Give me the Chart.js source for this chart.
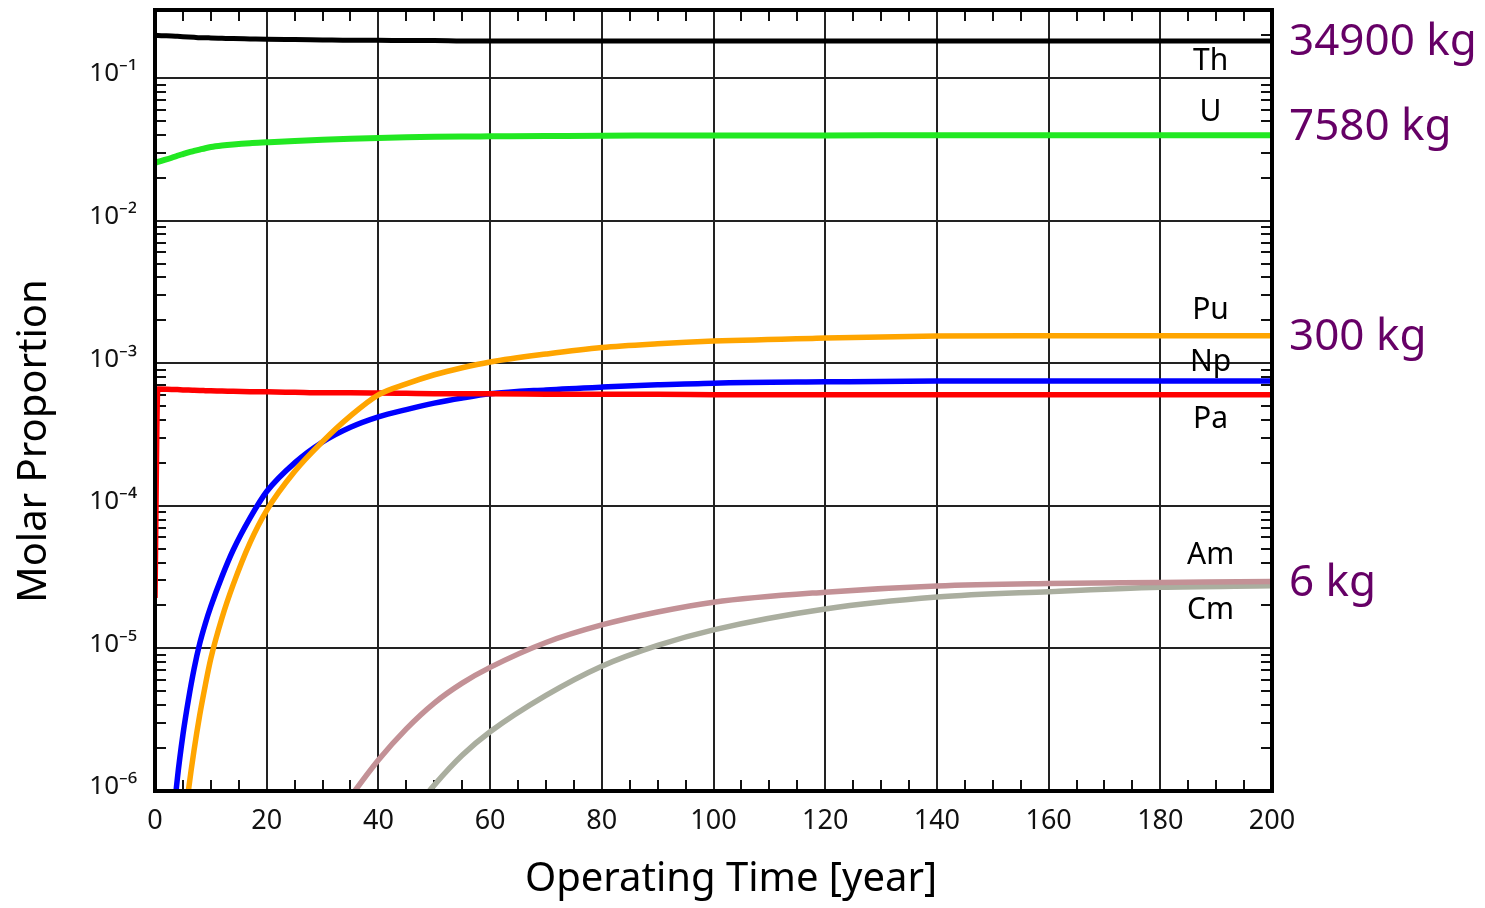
<!DOCTYPE html>
<html>
<head>
<meta charset="utf-8">
<script src="https://cdn.jsdelivr.net/npm/chart.js@4"></script>
<style>
  body { margin: 0; background: #fff; }
  #wrap { width: 1485px; height: 908px; }
</style>
</head>
<body>
<div id="wrap"><canvas id="molarChart"></canvas></div>
<script>
// --- data ---
const years = [0, 0.5, 3, 4, 5, 6, 7, 8, 9, 10, 12, 14, 17, 20, 25, 30, 35, 40, 45, 50, 55, 60, 70, 80, 90, 100, 120, 140, 160, 180, 200];

const thValues = [0.200, 0.199, 0.197, 0.196, 0.195, 0.194, 0.193, 0.192, 0.192, 0.191, 0.190, 0.189, 0.188, 0.187, 0.186, 0.185, 0.184, 0.184, 0.183, 0.183, 0.182, 0.182, 0.182, 0.182, 0.182, 0.182, 0.182, 0.182, 0.182, 0.182, 0.182];
const uValues = [0.0254, 0.0258, 0.0276, 0.0285, 0.0293, 0.0301, 0.0308, 0.0315, 0.0322, 0.0328, 0.0336, 0.0342, 0.0349, 0.0354, 0.0362, 0.0369, 0.0375, 0.0380, 0.0384, 0.0387, 0.0389, 0.0390, 0.0392, 0.0394, 0.0395, 0.0396, 0.0396, 0.0397, 0.0397, 0.0397, 0.0397];
const puValues = [null, null, 5.7e-8, 1.9e-7, 4.8e-7, 1.02e-6, 1.94e-6, 3.4e-6, 5.5e-6, 8.5e-6, 1.64e-5, 2.8e-5, 5.5e-5, 9.3e-5, 1.74e-4, 2.82e-4, 4.27e-4, 6.0e-4, 7.16e-4, 8.3e-4, 9.3e-4, 1.02e-3, 1.16e-3, 1.29e-3, 1.37e-3, 1.43e-3, 1.50e-3, 1.55e-3, 1.56e-3, 1.56e-3, 1.56e-3];
const npValues = [null, null, 4.9e-7, 1.22e-6, 2.48e-6, 4.4e-6, 7.2e-6, 1.08e-5, 1.49e-5, 1.97e-5, 3.2e-5, 4.9e-5, 8.2e-5, 1.26e-4, 2.0e-4, 2.8e-4, 3.55e-4, 4.2e-4, 4.73e-4, 5.25e-4, 5.7e-4, 6.1e-4, 6.5e-4, 6.8e-4, 7.05e-4, 7.25e-4, 7.4e-4, 7.5e-4, 7.5e-4, 7.5e-4, 7.5e-4];
const paValues = [2.26e-5, 6.6e-4, 6.55e-4, 6.53e-4, 6.5e-4, 6.48e-4, 6.46e-4, 6.44e-4, 6.42e-4, 6.4e-4, 6.38e-4, 6.35e-4, 6.32e-4, 6.3e-4, 6.25e-4, 6.2e-4, 6.2e-4, 6.18e-4, 6.15e-4, 6.12e-4, 6.1e-4, 6.1e-4, 6.07e-4, 6.05e-4, 6.05e-4, 6.02e-4, 6.0e-4, 6.0e-4, 6.0e-4, 6.0e-4, 6.0e-4];
const amValues = [null, null, null, null, null, null, null, null, null, null, null, null, null, null, null, 4.8e-7, 9.1e-7, 1.65e-6, 2.73e-6, 4.14e-6, 5.71e-6, 7.36e-6, 1.1e-5, 1.46e-5, 1.8e-5, 2.11e-5, 2.48e-5, 2.74e-5, 2.85e-5, 2.9e-5, 2.95e-5];
const cmValues = [null, null, null, null, null, null, null, null, null, null, null, null, null, null, null, null, null, null, 6.3e-7, 1.1e-6, 1.78e-6, 2.6e-6, 4.68e-6, 7.5e-6, 1.05e-5, 1.35e-5, 1.89e-5, 2.29e-5, 2.5e-5, 2.68e-5, 2.75e-5];

const seriesNames = ["Th", "U", "Pu", "Np", "Pa", "Am", "Cm"];
const massLabels = { Th: "34900 kg", U: "7580 kg", Pu: "300 kg", Am: "6 kg" };
const xTitle = "Operating Time [year]";
const yTitle = "Molar Proportion";

const xMin = 0, xMax = 200, yMin = 1e-6, yMax = 0.3;

// --- helpers ---
const SUP = { "-": "\u207B", "0": "\u2070", "1": "\u00B9", "2": "\u00B2", "3": "\u00B3", "4": "\u2074", "5": "\u2075", "6": "\u2076", "7": "\u2077", "8": "\u2078", "9": "\u2079" };

function isPow10(v) {
  const l = Math.log10(v);
  return Math.abs(l - Math.round(l)) < 1e-9;
}

function yTickValues() {
  const vals = [];
  for (let e = -6; e <= -1; e++) {
    for (let k = 1; k <= 9; k++) {
      const v = parseFloat((k * Math.pow(10, e)).toPrecision(3));
      if (v <= yMax + 1e-12) vals.push(v);
    }
  }
  return vals;
}

const FONT = "'Comic Sans MS', 'Noto Sans', sans-serif";

// minor ticks inside the frame, frame border, axis titles, curve names and masses
const decorPlugin = {
  id: "decor",
  beforeDatasetsDraw(chart) {
    const { ctx, chartArea } = chart;
    const { left, right, top, bottom } = chartArea;
    const xs = chart.scales.x, ys = chart.scales.y;
    ctx.save();
    ctx.strokeStyle = "#111";
    ctx.lineWidth = 2;
    ctx.beginPath();
    xs.ticks.forEach((t) => {
      if (t.value % 20 === 0) return;
      const px = Math.round(xs.getPixelForValue(t.value));
      ctx.moveTo(px, bottom); ctx.lineTo(px, bottom - 11);
      ctx.moveTo(px, top); ctx.lineTo(px, top + 11);
    });
    ys.ticks.forEach((t) => {
      if (isPow10(t.value)) return;
      const py = Math.round(ys.getPixelForValue(t.value));
      ctx.moveTo(left, py); ctx.lineTo(left + 11, py);
      ctx.moveTo(right, py); ctx.lineTo(right - 11, py);
    });
    ctx.stroke();
    ctx.restore();
  },
  afterDraw(chart) {
    const { ctx, chartArea } = chart;
    const { left, right, top, bottom } = chartArea;
    const xs = chart.scales.x, ys = chart.scales.y;
    ctx.save();
    ctx.strokeStyle = "#000";
    ctx.lineWidth = 4;
    ctx.strokeRect(left, top, right - left, bottom - top);

    chart.data.datasets.forEach((ds) => {
      const last = ds.data[ds.data.length - 1];
      const py = ys.getPixelForValue(last);
      ctx.textBaseline = "middle";
      ctx.fillStyle = "#000";
      ctx.font = "30px " + FONT;
      ctx.textAlign = "center";
      ctx.fillText(ds.label, xs.getPixelForValue(189), py + ds.nameShift);
      if (massLabels[ds.label]) {
        ctx.fillStyle = "#660066";
        ctx.font = "44px " + FONT;
        ctx.textAlign = "left";
        ctx.fillText(massLabels[ds.label], right + 17, py + ds.massShift);
      }
    });

    // axis titles
    ctx.fillStyle = "#000";
    ctx.font = "40px " + FONT;
    ctx.textAlign = "center";
    ctx.textBaseline = "middle";
    ctx.fillText(xTitle, 731, 880);
    ctx.translate(35, 441);
    ctx.rotate(-Math.PI / 2);
    ctx.fillText(yTitle, 0, 0);
    ctx.restore();
  },
};

function makeSet(name, values, color, width, nameShift, massShift) {
  return {
    label: name,
    data: values,
    borderColor: color,
    backgroundColor: color,
    borderWidth: width,
    pointRadius: 0,
    cubicInterpolationMode: "monotone",
    fill: false,
    nameShift: nameShift,
    massShift: massShift || 0,
  };
}

const datasets = [
  makeSet(seriesNames[0], thValues, "#000000", 5, 21, 2),
  makeSet(seriesNames[1], uValues, "#22e822", 6, -23, -8),
  makeSet(seriesNames[2], puValues, "#ffa500", 5.5, -25, 2),
  makeSet(seriesNames[4], paValues, "#ff0000", 5.5, 25),
  makeSet(seriesNames[3], npValues, "#0000ff", 5.5, -19),
  makeSet(seriesNames[5], amValues, "#c39196", 5.5, -26, 2),
  makeSet(seriesNames[6], cmValues, "#aaae9f", 5.5, 25),
];

new Chart(document.getElementById("molarChart"), {
  type: "line",
  data: { labels: years, datasets },
  options: {
    responsive: true,
    maintainAspectRatio: false,
    animation: false,
    layout: { padding: { top: 10, right: 213, left: 0, bottom: 0 } },
    plugins: { legend: { display: false }, tooltip: { enabled: false } },
    scales: {
      x: {
        type: "linear",
        min: xMin,
        max: xMax,
        afterFit: (s) => { s.height = 117; s.paddingLeft = 0; s.paddingRight = 0; },
        border: { display: false },
        grid: {
          drawTicks: false,
          lineWidth: 2,
          color: (c) => (c.tick && c.tick.value % 20 === 0 ? "#222" : "rgba(0,0,0,0)"),
        },
        ticks: {
          stepSize: 5,
          autoSkip: false,
          maxRotation: 0,
          padding: 14,
          color: "#111",
          font: { size: 27, family: FONT },
          callback: (v) => (v % 20 === 0 ? String(v) : ""),
        },
      },
      y: {
        type: "logarithmic",
        min: yMin,
        max: yMax,
        afterFit: (s) => { s.width = 155; s.paddingTop = 0; s.paddingBottom = 0; },
        afterBuildTicks: (s) => { s.ticks = yTickValues().map((v) => ({ value: v })); },
        border: { display: false },
        grid: {
          drawTicks: false,
          lineWidth: 2,
          color: (c) => (c.tick && isPow10(c.tick.value) ? "#222" : "rgba(0,0,0,0)"),
        },
        ticks: {
          autoSkip: false,
          padding: 18,
          labelOffset: -4,
          color: "#111",
          font: { size: 26, family: FONT },
          callback: (v) => {
            if (!isPow10(v)) return "";
            const e = String(Math.round(Math.log10(v)));
            return "10" + e.split("").map((ch) => SUP[ch]).join("");
          },
        },
      },
    },
  },
  plugins: [decorPlugin],
});
</script>
</body>
</html>
